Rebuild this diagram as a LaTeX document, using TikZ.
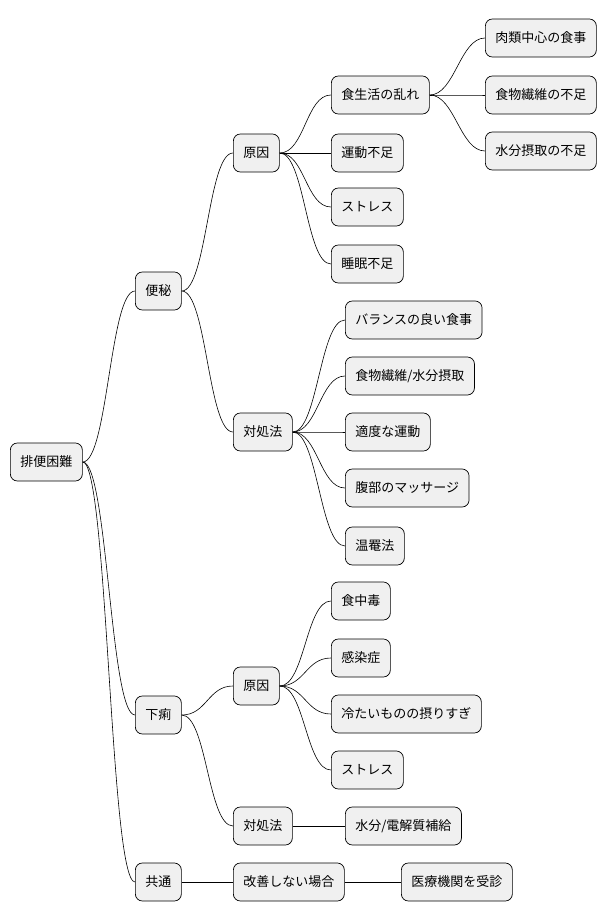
\documentclass[tikz,border=0pt]{standalone}
\usepackage{fontspec}
\setmainfont{Noto Sans CJK JP}
\usetikzlibrary{positioning}
\tikzset{
  topic/.style={draw, rounded corners=7pt, fill=gray!12, minimum height=38pt,
    inner xsep=10pt, anchor=west, font=\fontsize{13}{15}\selectfont, line width=0.7pt},
  branch/.style={line width=0.6pt}
}
\begin{document}
\begin{tikzpicture}[x=1pt,y=-1pt]
\useasboundingbox (0,0) rectangle (614,921);
% root and first level
\node[topic] (root) at (10,462) {排便困難};
\node[topic] (bp) at (135,291) {便秘};
\node[topic] (gr) at (135,715) {下痢};
\node[topic] (kt) at (135,882) {共通};
% second level
\node[topic] (bpcause) at (233,153) {原因};
\node[topic] (bpcare) at (233,432) {対処法};
\node[topic] (grcause) at (233,686) {原因};
\node[topic] (grcare) at (233,826) {対処法};
\node[topic] (ktnot) at (233,882) {改善しない場合};
% third level
\node[topic] (diet) at (331,95) {食生活の乱れ};
\node[topic] (ex) at (331,153) {運動不足};
\node[topic] (st1) at (331,207) {ストレス};
\node[topic] (sl) at (331,264) {睡眠不足};
\node[topic] (bal) at (345,320) {バランスの良い食事};
\node[topic] (fib) at (345,376) {食物繊維/水分摂取};
\node[topic] (mov) at (345,432) {適度な運動};
\node[topic] (mas) at (345,488) {腹部のマッサージ};
\node[topic] (hot) at (345,546) {温罨法};
\node[topic] (fp) at (331,601) {食中毒};
\node[topic] (inf) at (331,658) {感染症};
\node[topic] (cold) at (331,714) {冷たいものの摂りすぎ};
\node[topic] (st2) at (331,770) {ストレス};
\node[topic] (wat) at (345,826) {水分/電解質補給};
\node[topic] (doc) at (401,882) {医療機関を受診};
% fourth level
\node[topic] (meat) at (485,38) {肉類中心の食事};
\node[topic] (lfib) at (485,95) {食物繊維の不足};
\node[topic] (lwat) at (485,151) {水分摂取の不足};
% connectors
\foreach \p/\c in {root/bp, root/gr, root/kt, bp/bpcause, bp/bpcare, gr/grcause, gr/grcare,
  kt/ktnot, bpcause/diet, bpcause/ex, bpcause/st1, bpcause/sl,
  bpcare/bal, bpcare/fib, bpcare/mov, bpcare/mas, bpcare/hot,
  grcause/fp, grcause/inf, grcause/cold, grcause/st2, grcare/wat, ktnot/doc,
  diet/meat, diet/lfib, diet/lwat}
  \draw[branch] (\p.east) .. controls +(25,0) and +(-25,0) .. (\c.west);
\end{tikzpicture}
\end{document}
